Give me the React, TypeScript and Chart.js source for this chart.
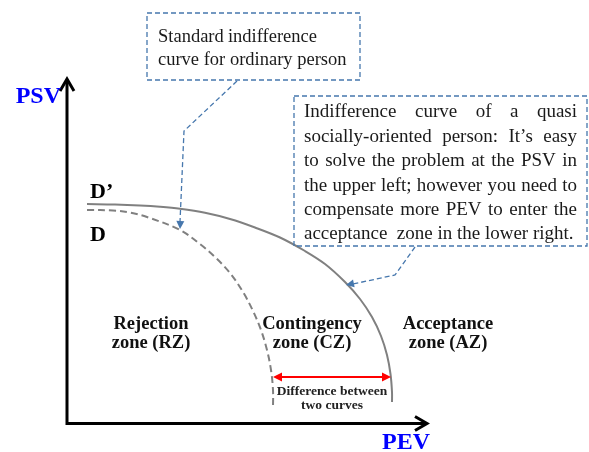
import React, { useEffect, useRef } from 'react';
import { Chart, registerables } from 'chart.js';

Chart.register(...registerables);

// ---- Data (arbitrary PEV / PSV units, origin at the axes' corner) ----
const upperCurvePEV = [20, 48, 73, 93, 113, 138, 163, 188, 213, 238, 258, 278, 293, 305, 314, 320, 323.5, 325, 325];
const upperCurvePSV = [218, 217.5, 216.5, 215.2, 213.2, 209.2, 203, 194.5, 184.5, 171, 158, 140, 123, 105, 86, 67, 48, 30, 20];
const lowerCurvePEV = [20, 46, 63, 80, 113, 133, 148, 163, 176, 186, 194, 200, 204, 206, 206];
const lowerCurvePSV = [212, 211.5, 209.5, 205, 192, 178, 165, 149, 130, 111, 92, 72, 52, 32, 14];
const diffLevelPSV = 45;
const diffFromPEV = 206;
const diffToPEV = 324;
const axisEndPEV = 361;
const axisEndPSV = 344;

const box1Lines = ['Standard', 'indifference'];
const box1Line2 = 'curve for ordinary person';
const box2Lines = [
  'Indifference curve of a quasi',
  'socially-oriented person: It\u2019s easy',
  'to solve the problem at the PSV in',
  'the upper left; however you need to',
  'compensate more PEV to enter the',
  'acceptance  zone in the lower right.',
];
const zoneLabels = [
  ['Rejection', 'zone (RZ)'],
  ['Contingency', 'zone (CZ)'],
  ['Acceptance', 'zone (AZ)'],
];
const diffLabel = ['Difference between', 'two curves'];

const SERIF = '"Liberation Serif", "Times New Roman", serif';
const BLUE_DASH = '#4677ad';

function toPoints(xs: number[], ys: number[]) {
  return xs.map((x, i) => ({ x, y: ys[i] }));
}

function arrowHead(ctx: CanvasRenderingContext2D, fx: number, fy: number, tx: number, ty: number, len: number, half: number, color: string) {
  const a = Math.atan2(ty - fy, tx - fx);
  ctx.save();
  ctx.fillStyle = color;
  ctx.beginPath();
  ctx.moveTo(tx, ty);
  ctx.lineTo(tx - len * Math.cos(a) + half * Math.sin(a), ty - len * Math.sin(a) - half * Math.cos(a));
  ctx.lineTo(tx - len * Math.cos(a) - half * Math.sin(a), ty - len * Math.sin(a) + half * Math.cos(a));
  ctx.closePath();
  ctx.fill();
  ctx.restore();
}

function justified(ctx: CanvasRenderingContext2D, text: string, left: number, right: number, y: number) {
  const words = text.split(/\s+/);
  if (words.length < 2) { ctx.fillText(text, left, y); return; }
  const total = words.reduce((s, w) => s + ctx.measureText(w).width, 0);
  const gap = (right - left - total) / (words.length - 1);
  let x = left;
  words.forEach((w) => { ctx.fillText(w, x, y); x += ctx.measureText(w).width + gap; });
}

const diagramPlugin = {
  id: 'diagram',
  beforeDatasetsDraw(chart: any) {
    const ctx: CanvasRenderingContext2D = chart.ctx;
    const xs = chart.scales.x, ys = chart.scales.y;
    const X = (v: number) => xs.getPixelForValue(v);
    const Y = (v: number) => ys.getPixelForValue(v);
    ctx.save();
    ctx.strokeStyle = '#000';
    ctx.lineWidth = 3;
    ctx.lineCap = 'butt';
    ctx.lineJoin = 'miter';
    // axes
    ctx.beginPath();
    ctx.moveTo(X(0), Y(axisEndPSV) + 2);
    ctx.lineTo(X(0), Y(0) + 1.5);
    ctx.lineTo(X(axisEndPEV) - 2, Y(0) + 1.5);
    ctx.stroke();
    // chevrons
    ctx.beginPath();
    ctx.moveTo(X(0) - 7, Y(axisEndPSV) + 13);
    ctx.lineTo(X(0), Y(axisEndPSV) + 1);
    ctx.lineTo(X(0) + 7, Y(axisEndPSV) + 13);
    ctx.stroke();
    ctx.beginPath();
    ctx.moveTo(X(axisEndPEV) - 13, Y(0) + 1.5 - 7);
    ctx.lineTo(X(axisEndPEV) - 1, Y(0) + 1.5);
    ctx.lineTo(X(axisEndPEV) - 13, Y(0) + 1.5 + 7);
    ctx.stroke();
    ctx.restore();
  },
  afterDatasetsDraw(chart: any) {
    const ctx: CanvasRenderingContext2D = chart.ctx;
    const xs = chart.scales.x, ys = chart.scales.y;
    const X = (v: number) => xs.getPixelForValue(v);
    const Y = (v: number) => ys.getPixelForValue(v);
    ctx.save();
    ctx.textBaseline = 'alphabetic';

    // axis titles
    ctx.fillStyle = '#0000ff';
    ctx.font = `bold 24px ${SERIF}`;
    ctx.textAlign = 'right';
    ctx.fillText('PSV', X(-6), Y(319));
    ctx.textAlign = 'left';
    ctx.fillText('PEV', X(315), Y(-27));

    // curve labels
    ctx.fillStyle = '#000';
    ctx.font = `bold 22px ${SERIF}`;
    ctx.fillText('D\u2019', X(23), Y(224));
    ctx.fillText('D', X(23), Y(181));

    // zone labels
    ctx.font = `bold 18.5px ${SERIF}`;
    ctx.textAlign = 'center';
    ctx.fillStyle = '#111';
    const zoneX = [84, 245, 381];
    zoneLabels.forEach((lines, i) => {
      ctx.fillText(lines[0], X(zoneX[i]), Y(93));
      ctx.fillText(lines[1], X(zoneX[i]), Y(74));
    });

    // difference arrow (red)
    const ay = Y(diffLevelPSV);
    const ax1 = X(diffFromPEV), ax2 = X(diffToPEV);
    ctx.strokeStyle = '#ff0000';
    ctx.lineWidth = 2;
    ctx.beginPath();
    ctx.moveTo(ax1 + 6, ay);
    ctx.lineTo(ax2 - 6, ay);
    ctx.stroke();
    arrowHead(ctx, ax2, ay, ax1, ay, 9, 4.5, '#ff0000');
    arrowHead(ctx, ax1, ay, ax2, ay, 9, 4.5, '#ff0000');
    ctx.font = `bold 13.5px ${SERIF}`;
    ctx.fillStyle = '#222';
    const mid = (ax1 + ax2) / 2;
    ctx.fillText(diffLabel[0], mid, Y(27));
    ctx.fillText(diffLabel[1], mid, Y(13));

    // callout boxes
    ctx.strokeStyle = BLUE_DASH;
    ctx.lineWidth = 1.3;
    ctx.setLineDash([5, 3]);
    ctx.strokeRect(X(80), Y(409), X(293) - X(80), Y(342) - Y(409));
    ctx.strokeRect(X(227), Y(326), X(520) - X(227), Y(176) - Y(326));

    // connectors
    ctx.beginPath();
    ctx.moveTo(X(170), Y(341));
    ctx.lineTo(X(117), Y(291));
    ctx.lineTo(X(113), Y(193) - 7);
    ctx.stroke();
    ctx.beginPath();
    ctx.moveTo(X(348), Y(175));
    ctx.lineTo(X(328), Y(147));
    ctx.lineTo(X(279) + 7, Y(137) - 1);
    ctx.stroke();
    ctx.setLineDash([]);
    arrowHead(ctx, X(117), Y(291), X(113), Y(193), 8, 4, BLUE_DASH);
    arrowHead(ctx, X(328), Y(147), X(279), Y(137), 8, 4, BLUE_DASH);

    // box texts
    ctx.fillStyle = '#1a1a1a';
    ctx.textAlign = 'left';
    ctx.font = `18.5px ${SERIF}`;
    justified(ctx, box1Lines.join(' '), X(91), X(250), Y(380));
    ctx.fillText(box1Line2, X(91), Y(357));

    ctx.font = `19px ${SERIF}`;
    const base2 = [305, 280, 256, 231, 207, 183];
    box2Lines.forEach((line, i) => {
      if (i < box2Lines.length - 1) justified(ctx, line, X(237), X(510), Y(base2[i]));
      else ctx.fillText(line, X(237), Y(base2[i]));
    });
    ctx.restore();
  },
};

export default function App() {
  const ref = useRef<HTMLCanvasElement | null>(null);
  useEffect(() => {
    if (!ref.current) return;
    const chart = new Chart(ref.current, {
      type: 'line',
      data: {
        datasets: [
          {
            label: 'D\u2019',
            data: toPoints(upperCurvePEV, upperCurvePSV),
            borderColor: '#808080',
            borderWidth: 2,
            pointRadius: 0,
            tension: 0.35,
            fill: false,
          },
          {
            label: 'D',
            data: toPoints(lowerCurvePEV, lowerCurvePSV),
            borderColor: '#808080',
            borderWidth: 2,
            borderDash: [7, 4],
            pointRadius: 0,
            tension: 0.35,
            fill: false,
          },
        ],
      },
      options: {
        animation: false,
        responsive: false,
        devicePixelRatio: 1,
        layout: { padding: 0 },
        scales: {
          x: { type: 'linear', min: -67, max: 522, display: false },
          y: { type: 'linear', min: -30, max: 422, display: false },
        },
        plugins: { legend: { display: false }, tooltip: { enabled: false } },
      },
      plugins: [diagramPlugin],
    } as any);
    return () => chart.destroy();
  }, []);
  return (
    <div style={{ position: 'fixed', left: 0, top: 0, width: 589, height: 452, background: '#fff' }}>
      <canvas ref={ref} width={589} height={452} style={{ display: 'block' }} />
    </div>
  );
}
